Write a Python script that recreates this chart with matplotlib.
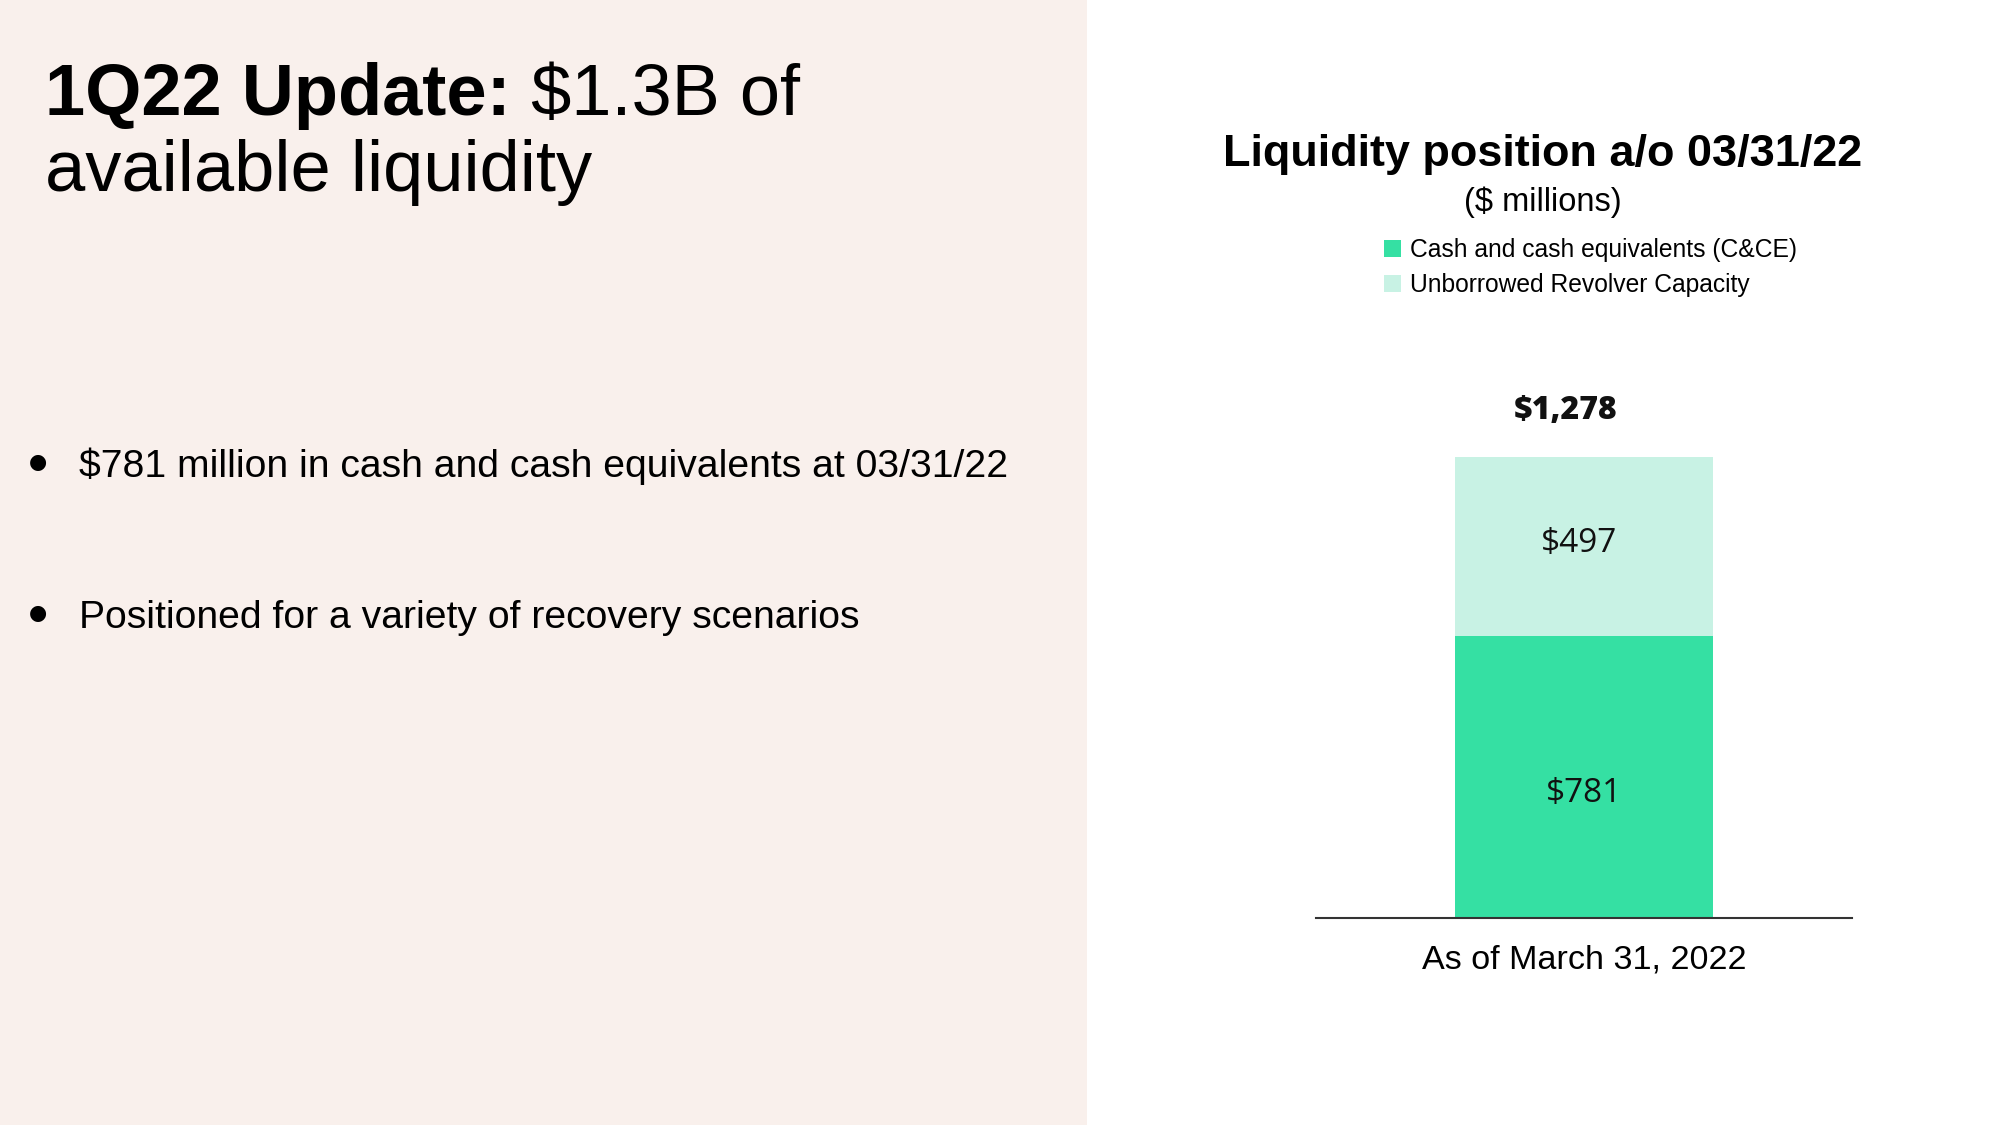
import matplotlib
matplotlib.use("Agg")
import matplotlib.pyplot as plt
from matplotlib.patches import Rectangle

# ---- data ----
categories = ["As of March 31, 2022"]
cash_values = [781]
revolver_values = [497]
total_values = [1278]
series_names = ["Cash and cash equivalents (C&CE)", "Unborrowed Revolver Capacity"]

W, H = 2000, 1125
fig = plt.figure(figsize=(20, 11.25), dpi=100)
fig.patch.set_facecolor("white")

def fx(x):
    return x / W

def fy(y):
    return 1 - y / H

SANS = ["Liberation Sans", "DejaVu Sans"]
NUM = ["Open Sans", "DejaVu Sans"]

# left panel background
fig.patches.append(Rectangle((0, 0), fx(1087), 1, transform=fig.transFigure,
                             facecolor="#F9F0EC", edgecolor="none", zorder=0))

# headline
HS = 52
t1 = fig.text(fx(45), fy(115), "1Q22 Update:", fontsize=HS, fontweight="bold",
              family=SANS, va="baseline", ha="left")
fig.canvas.draw()
r = fig.canvas.get_renderer()
bb = t1.get_window_extent(renderer=r)
fig.text(bb.x1 / W, fy(115), " $1.3B of", fontsize=HS, family=SANS,
         va="baseline", ha="left")
fig.text(fx(45), fy(191), "available liquidity", fontsize=HS, family=SANS,
         va="baseline", ha="left")

# bullets
bullets = ["$781 million in cash and cash equivalents at 03/31/22",
           "Positioned for a variety of recovery scenarios"]
bullet_y = [477, 628]
for txt, by in zip(bullets, bullet_y):
    fig.text(fx(29), fy(by - 9), "\u25CF", fontsize=15, family=["DejaVu Sans"],
             va="baseline", ha="left")
    fig.text(fx(79), fy(by), txt, fontsize=28.2, family=SANS, va="baseline", ha="left")

# chart titles
fig.text(fx(1543), fy(166), "Liquidity position a/o 03/31/22", fontsize=32.4,
         fontweight="bold", family=SANS, ha="center", va="baseline")
fig.text(fx(1543), fy(211), "($ millions)", fontsize=23.5, family=SANS,
         ha="center", va="baseline")

# axes for bars
ax_left, ax_right = 1316, 1852
ax_bottom, ax_top = 918, 380
ax = fig.add_axes([fx(ax_left), fy(ax_bottom), (ax_right - ax_left) / W,
                   (ax_bottom - ax_top) / H])
ax.set_facecolor("none")
bar_top_px = 457
ymax = total_values[0] * (ax_bottom - ax_top) / (ax_bottom - bar_top_px)
ax.set_ylim(0, ymax)
ax.set_xlim(-1, 1)

c_dark = "#35E0A3"
c_light = "#C8F2E4"
x = list(range(len(categories)))
b1 = ax.bar(x, cash_values, width=0.963, color=c_dark, label=series_names[0])
b2 = ax.bar(x, revolver_values, width=0.963, bottom=cash_values, color=c_light,
            label=series_names[1])

for i in x:
    ax.text(i, cash_values[i] / 2 - 44, f"${cash_values[i]:,}", ha="center",
            va="center", fontsize=24, family=NUM, color="#111111")
    ax.text(i - 0.02, cash_values[i] + revolver_values[i] / 2 + 10,
            f"${revolver_values[i]:,}", ha="center", va="center", fontsize=24,
            family=NUM, color="#111111")
    ax.annotate(f"${total_values[i]:,}", (i - 0.07, total_values[i]),
                xytext=(0, 33), textcoords="offset points", ha="center",
                va="center", fontsize=23, fontweight=800, family=NUM,
                color="#111111")

for s in ["top", "right", "left"]:
    ax.spines[s].set_visible(False)
ax.spines["bottom"].set_color("#333333")
ax.spines["bottom"].set_linewidth(1.5)
ax.set_yticks([])
ax.set_xticks(x)
ax.set_xticklabels(categories, fontsize=24.6, family=SANS)
ax.tick_params(axis="x", length=0, pad=19)

fig.legend(handles=[b1, b2], labels=series_names, loc="upper left",
           bbox_to_anchor=(fx(1384), fy(238)), frameon=False,
           prop={"family": SANS, "size": 17.7},
           handlelength=0.7, handleheight=0.7, handletextpad=0.35,
           labelspacing=0.45, borderpad=0, borderaxespad=0)

fig.savefig("out.png", dpi=100)
